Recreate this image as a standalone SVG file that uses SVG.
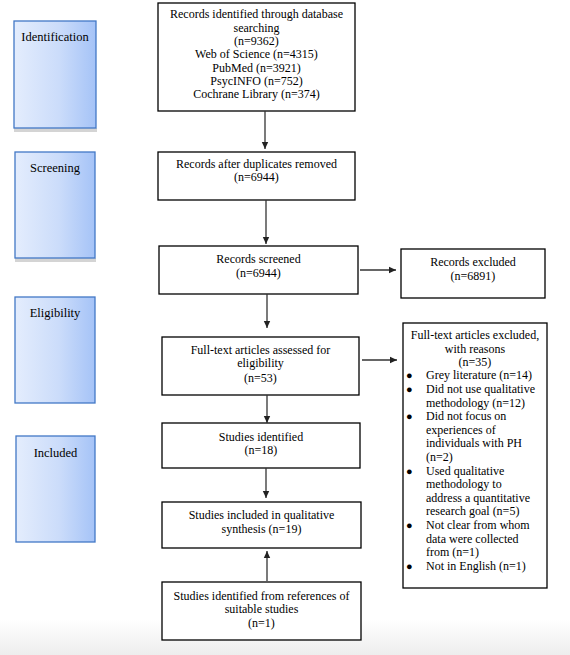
<svg xmlns="http://www.w3.org/2000/svg" width="570" height="655" viewBox="0 0 570 655" font-family="'Liberation Serif', 'Times New Roman', 'DejaVu Serif', serif">
<defs>
<linearGradient id="phase" x1="0" y1="0" x2="1" y2="0">
<stop offset="0" stop-color="#e4edfd"/>
<stop offset="0.55" stop-color="#cbdcfa"/>
<stop offset="1" stop-color="#a5c3f7"/>
</linearGradient>
<linearGradient id="bottom" x1="0" y1="0" x2="0" y2="1">
<stop offset="0" stop-color="#ffffff"/>
<stop offset="1" stop-color="#ededed"/>
</linearGradient>
<marker id="ah" markerWidth="8" markerHeight="8" refX="7" refY="4" orient="auto" markerUnits="userSpaceOnUse">
<path d="M0,0.8 L7,4 L0,7.2 Z" fill="#222"/>
</marker>
</defs>
<style>
.phase{fill:url(#phase);stroke:#4278c6;stroke-width:1.3}
.shadow{fill:#d4d4d4}
.box{fill:#fff;stroke:#000;stroke-width:1.3}
text{font-family:'Liberation Serif','Times New Roman','DejaVu Serif',serif;font-size:12px;fill:#000}
.c{text-anchor:middle}
.pl{font-size:12.5px}
.b{font-size:11px}
.conn line{stroke:#333;stroke-width:1.3;marker-end:url(#ah)}
</style>
<rect x="0" y="620" width="570" height="35" fill="url(#bottom)"/>

<g id="phase-identification">
<rect class="shadow" x="14" y="128" width="83" height="4"/>
<rect class="phase" x="14" y="21" width="82" height="107"/>
<text class="c pl" x="55" y="41">Identification</text>
</g>
<g id="phase-screening">
<rect class="shadow" x="15" y="258" width="81" height="4"/>
<rect class="phase" x="15" y="152" width="80" height="106"/>
<text class="c pl" x="55" y="172">Screening</text>
</g>
<g id="phase-eligibility">
<rect class="phase" x="15" y="297" width="80" height="106"/>
<text class="c pl" x="55" y="317">Eligibility</text>
</g>
<g id="phase-included">
<rect class="phase" x="16" y="436" width="79" height="106"/>
<text class="c pl" x="55.5" y="457">Included</text>
</g>

<g id="box-identified">
<rect class="box" x="158" y="3" width="197" height="108"/>
<text class="c" x="256.5" y="18">Records identified through database</text>
<text class="c" x="256.5" y="32">searching</text>
<text class="c" x="256.5" y="45">(n=9362)</text>
<text class="c" x="256.5" y="58">Web of Science (n=4315)</text>
<text class="c" x="256.5" y="72">PubMed (n=3921)</text>
<text class="c" x="256.5" y="85">PsycINFO (n=752)</text>
<text class="c" x="256.5" y="98">Cochrane Library (n=374)</text>
</g>
<g id="box-duplicates">
<rect class="box" x="158" y="152" width="197" height="48"/>
<text class="c" x="256.5" y="168">Records after duplicates removed</text>
<text class="c" x="256.5" y="181">(n=6944)</text>
</g>
<g id="box-screened">
<rect class="box" x="159" y="246" width="199" height="48"/>
<text class="c" x="258.5" y="263">Records screened</text>
<text class="c" x="258.5" y="277">(n=6944)</text>
</g>
<g id="box-excluded">
<rect class="box" x="401" y="249" width="144" height="49"/>
<text class="c" x="473" y="266">Records excluded</text>
<text class="c" x="473" y="280">(n=6891)</text>
</g>
<g id="box-fulltext">
<rect class="box" x="162" y="337" width="197" height="58"/>
<text class="c" x="260.5" y="354">Full-text articles assessed for</text>
<text class="c" x="260.5" y="367">eligibility</text>
<text class="c" x="260.5" y="382">(n=53)</text>
</g>
<g id="box-fulltext-excluded">
<rect class="box" x="403" y="323" width="144" height="265"/>
<text class="c" x="475" y="339">Full-text articles excluded,</text>
<text class="c" x="475" y="353">with reasons</text>
<text class="c" x="475" y="366">(n=35)</text>
<text class="b" x="406" y="379">●</text><text x="426" y="379">Grey literature (n=14)</text>
<text class="b" x="406" y="393">●</text><text x="426" y="393">Did not use qualitative</text>
<text x="426" y="407">methodology (n=12)</text>
<text class="b" x="406" y="420">●</text><text x="426" y="420">Did not focus on</text>
<text x="426" y="434">experiences of</text>
<text x="426" y="447">individuals with PH</text>
<text x="426" y="461">(n=2)</text>
<text class="b" x="406" y="475">●</text><text x="426" y="475">Used qualitative</text>
<text x="426" y="488">methodology to</text>
<text x="426" y="502">address a quantitative</text>
<text x="426" y="515">research goal (n=5)</text>
<text class="b" x="406" y="529">●</text><text x="426" y="529">Not clear from whom</text>
<text x="426" y="543">data were collected</text>
<text x="426" y="556">from (n=1)</text>
<text class="b" x="406" y="570">●</text><text x="426" y="570">Not in English (n=1)</text>
</g>
<g id="box-studies-identified">
<rect class="box" x="162" y="423" width="198" height="45"/>
<text class="c" x="261" y="441">Studies identified</text>
<text class="c" x="261" y="454">(n=18)</text>
</g>
<g id="box-included">
<rect class="box" x="162" y="502" width="199" height="46"/>
<text class="c" x="261.5" y="519">Studies included in qualitative</text>
<text class="c" x="261.5" y="533">synthesis (n=19)</text>
</g>
<g id="box-references">
<rect class="box" x="162" y="582" width="199" height="58"/>
<text class="c" x="261.5" y="600">Studies identified from references of</text>
<text class="c" x="261.5" y="613">suitable studies</text>
<text class="c" x="261.5" y="627">(n=1)</text>
</g>

<g id="connectors" class="conn">
<line x1="265" y1="111" x2="265" y2="149"/>
<line x1="266" y1="200" x2="266" y2="244"/>
<line x1="360" y1="270" x2="396" y2="270"/>
<line x1="267" y1="294" x2="267" y2="328"/>
<line x1="362" y1="360" x2="397" y2="360"/>
<line x1="267" y1="395" x2="267" y2="423"/>
<line x1="266" y1="468" x2="266" y2="498"/>
<line x1="267" y1="581" x2="267" y2="551"/>
</g>
</svg>
